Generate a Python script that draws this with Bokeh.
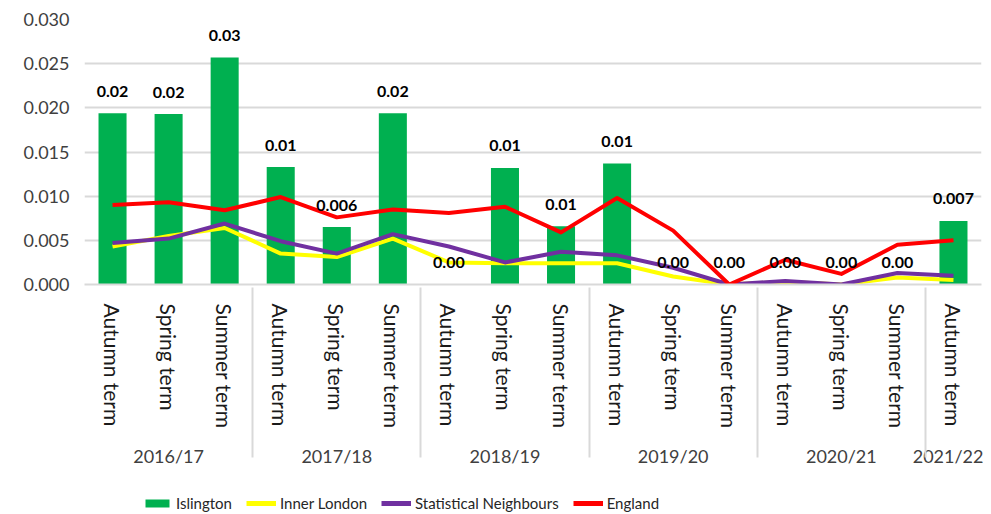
from bokeh.plotting import figure
from bokeh.layouts import column
from bokeh.models import (FactorRange, ColumnDataSource, Legend, LegendItem,
                          FixedTicker, NumeralTickFormatter)
from bokeh.core.properties import value
from bokeh.embed import file_html
from bokeh.resources import INLINE

years = ["2016/17", "2016/17", "2016/17", "2017/18", "2017/18", "2017/18",
         "2018/19", "2018/19", "2018/19", "2019/20", "2019/20", "2019/20",
         "2020/21", "2020/21", "2020/21", "2021/22"]
terms = ["Autumn term", "Spring term", "Summer term"] * 5 + ["Autumn term"]

islington = [0.0194, 0.0193, 0.0257, 0.0133, 0.0065, 0.0194, 0.0, 0.0132,
             0.0066, 0.0137, 0.0, 0.0, 0.0, 0.0, 0.0, 0.0072]
islington_labels = ["0.02", "0.02", "0.03", "0.01", "0.006", "0.02", "0.00", "0.01",
                    "0.01", "0.01", "0.00", "0.00", "0.00", "0.00", "0.00", "0.007"]
inner_london = [0.0043, 0.0055, 0.0064, 0.0035, 0.0031, 0.0052, 0.0025, 0.0024,
                0.0024, 0.0024, 0.0009, 0.0, 0.0003, 0.0, 0.0008, 0.0005]
stat_neighbours = [0.0047, 0.0052, 0.0069, 0.0049, 0.0035, 0.0057, 0.0043, 0.0025,
                   0.0037, 0.0033, 0.0019, 0.0, 0.0004, 0.0, 0.0013, 0.0010]
england = [0.0090, 0.0093, 0.0084, 0.0099, 0.0076, 0.0085, 0.0081, 0.0088,
           0.0059, 0.0098, 0.0061, 0.0, 0.0028, 0.0012, 0.0045, 0.0050]

series_names = ["Islington", "Inner London", "Statistical Neighbours", "England"]
series_colors = ["#00B050", "#FFFF00", "#7030A0", "#FF0000"]

y_ticks = [0.0, 0.005, 0.010, 0.015, 0.020, 0.025, 0.030]

factors = list(zip(years, terms))
src = ColumnDataSource(dict(x=factors, isl=islington, lab=islington_labels,
                            il=inner_london, sn=stat_neighbours, en=england))

FONT = "Lato"
TXT = "#404040"

p = figure(width=983, height=484, output_backend="svg", toolbar_location=None,
           x_range=FactorRange(*factors, factor_padding=0, group_padding=0,
                               subgroup_padding=0, range_padding=0),
           y_range=(0, 0.030),
           min_border_left=84, min_border_right=2, min_border_top=19,
           min_border_bottom=200)
p.outline_line_color = None
p.xgrid.grid_line_color = None
p.ygrid.grid_line_color = "#d9d9d9"
p.ygrid.grid_line_width = 2

p.yaxis.ticker = FixedTicker(ticks=y_ticks)
p.yaxis.formatter = NumeralTickFormatter(format="0.000")
p.yaxis.axis_line_color = None
p.yaxis.major_tick_line_color = None
p.yaxis.minor_tick_line_color = None
p.yaxis.major_tick_out = 0
p.yaxis.major_label_text_font = FONT
p.yaxis.major_label_text_font_size = "18px"
p.yaxis.major_label_text_color = TXT
p.yaxis.major_label_standoff = 15

xa = p.xaxis[0]
xa.axis_line_color = "#d9d9d9"
xa.axis_line_width = 2
xa.major_tick_line_color = None
xa.minor_tick_line_color = None
xa.major_label_orientation = "vertical"
xa.major_label_text_font = FONT
xa.major_label_text_font_size = "21px"
xa.major_label_text_color = "#1a1a1a"
xa.major_label_standoff = 13
xa.group_text_font = FONT
xa.group_text_font_size = "18px"
xa.group_text_color = TXT
xa.group_text_font_style = "normal"
xa.separator_line_color = "#d9d9d9"
xa.separator_line_width = 2

p.vbar(x="x", top="isl", width=0.5, source=src, fill_color=series_colors[0],
       line_color=None)
p.line(x="x", y="il", source=src, line_color=series_colors[1], line_width=4,
       line_join="round")
p.line(x="x", y="sn", source=src, line_color=series_colors[2], line_width=4,
       line_join="round")
p.line(x="x", y="en", source=src, line_color=series_colors[3], line_width=4,
       line_join="round")

p.text(x="x", y="isl", text="lab", source=src, y_offset=-22,
       text_align="center", text_baseline="middle",
       text_font=value(FONT), text_font_size="16px", text_font_style="bold",
       text_color="#000000")

# legend strip below the chart (proxy renderers hold no visible data)
lf = figure(width=983, height=30, output_backend="svg", toolbar_location=None,
            x_range=(0, 1), y_range=(0, 1), min_border=0)
lf.axis.visible = False
lf.grid.grid_line_color = None
lf.outline_line_color = None
proxy = ColumnDataSource(dict(x=[float("nan")], y=[float("nan")]))
r0 = lf.vbar(x="x", top="y", width=0.5, source=proxy, fill_color=series_colors[0],
             line_color=None)
r1 = lf.line(x="x", y="y", source=proxy, line_color=series_colors[1], line_width=5)
r2 = lf.line(x="x", y="y", source=proxy, line_color=series_colors[2], line_width=5)
r3 = lf.line(x="x", y="y", source=proxy, line_color=series_colors[3], line_width=5)

legend = Legend(items=[LegendItem(label=n, renderers=[r])
                       for n, r in zip(series_names, [r0, r1, r2, r3])],
                orientation="horizontal", location=(58, 1),
                glyph_width=30, glyph_height=10, label_height=20,
                label_standoff=4, spacing=14, padding=0, margin=0,
                border_line_color=None, background_fill_alpha=0,
                label_text_font=FONT, label_text_font_size="15px",
                label_text_color="#262626")
lf.add_layout(legend, "center")

layout = column(p, lf, spacing=0)
open("out.html", "w").write(file_html(layout, INLINE))
